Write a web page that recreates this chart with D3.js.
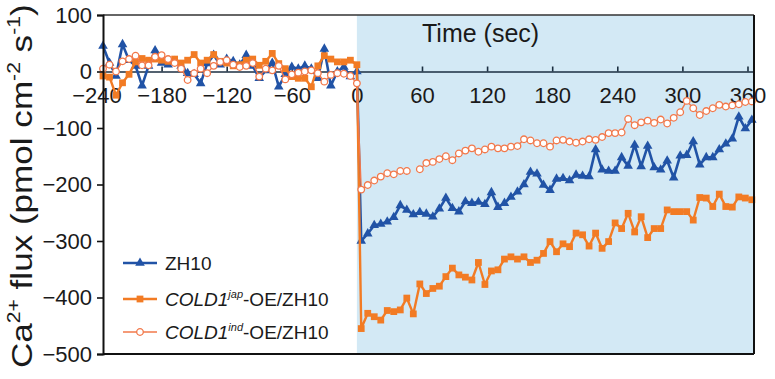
<!DOCTYPE html>
<html><head><meta charset="utf-8">
<script src="https://cdn.jsdelivr.net/npm/d3@7"></script>
<style>
html,body{margin:0;padding:0;background:#fff;}
svg{display:block;font-family:"Liberation Sans",Arial,sans-serif;}
</style></head>
<body>
<svg id="chart" width="775" height="379"></svg>
<script>
// ---- data ----
const timesPre  = d3.range(-234, 1, 6);   // sampling every 6 s before treatment
const timesPost = d3.range(4, 365, 6);    // sampling every 6 s after treatment
const xTicks = [-240, -180, -120, -60, 0, 60, 120, 180, 240, 300, 360];
const yTicks = [100, 0, -100, -200, -300, -400, -500];

const zh10Pre = [45,15,-8,48,20,10,-25,10,37,15,12,18,10,-3,-5,-21,14,29,12,22,
                 18,12,29,10,-12,2,15,-27,-5,8,5,10,5,-12,40,-25,0,8,-9,0];
const zh10Post = [-300,-287,-272,-270,-266,-258,-237,-245,-253,-249,-252,-257,-243,-224,-242,-248,-230,-233,-231,-235,
                  -214,-240,-233,-222,-213,-200,-178,-181,-201,-210,-190,-189,-193,-183,-185,-186,-138,-174,-176,-176,
                  -152,-167,-130,-168,-132,-170,-174,-158,-188,-149,-148,-124,-165,-152,-152,-138,-128,-119,-80,-101,-86];

const japPre = [-8,-10,-42,-20,-5,17,23,20,22,20,18,22,15,20,30,15,20,30,18,15,
                10,12,20,22,11,18,32,14,5,-9,-12,-12,-27,10,28,22,17,17,20,12];
const japPost = [-455,-428,-434,-440,-423,-425,-422,-401,-429,-376,-393,-384,-380,-363,-348,-360,-364,-369,-338,-377,
                 -353,-351,-332,-328,-332,-328,-338,-334,-322,-301,-319,-305,-310,-286,-289,-309,-286,-313,-301,-268,
                 -278,-251,-284,-257,-294,-278,-278,-245,-248,-248,-248,-263,-223,-224,-239,-217,-239,-240,-222,-224,-227];

const indPre = [5,12,0,18,22,28,11,11,26,29,22,15,5,-15,-3,5,-3,10,17,20,
                12,8,10,15,-9,5,2,10,-14,-5,-2,0,2,-3,-18,-6,-3,-4,-8,-21];
const indPost = [-209,-201,-193,-186,-180,-182,-176,-176,null,-173,-162,-160,-155,-150,-157,-145,-140,-136,-142,-138,
                 -133,-136,-136,-133,-132,-120,-122,-127,-127,-133,-122,-121,-124,-126,-124,-120,-121,-116,-109,-109,
                 -108,-84,-95,-90,-87,-91,-85,-92,-82,-72,-52,-65,-77,-70,-65,-59,-62,-60,-58,-54,-53];

const seriesNames = ["ZH10", "COLD1", "COLD1"];
const seriesSups  = ["", "jap", "ind"];
const shadeStart = 0;

// ---- layout ----
const svg = d3.select("#chart");
const L = 103, R = 754, T = 15, B = 354;
const x = d3.scaleLinear().domain([-234, 366]).range([L, R]);
const y = d3.scaleLinear().domain([-500, 100]).range([B, T]);

const blue = "#2153a6", orange = "#f27b24", orange2 = "#f2784a";

// shading
svg.append("rect").attr("x", x(shadeStart)).attr("y", T)
  .attr("width", R - x(shadeStart)).attr("height", B - T).attr("fill", "#d3e9f5");

// x axis at y=0
const xAxis = d3.axisBottom(x).tickValues(xTicks).tickFormat(d3.format("d"))
  .tickSizeInner(-5).tickSizeOuter(0).tickPadding(15.5);
const gx = svg.append("g").attr("transform", `translate(0,${y(0)})`).call(xAxis);
gx.select(".domain").attr("stroke", "#1b2e40").attr("stroke-width", 1.6);
gx.selectAll(".tick line").attr("stroke", "#1b2e40").attr("stroke-width", 1.6)
  .attr("display", d => (x(d) > L + 1 && x(d) < R - 1) ? null : "none");
gx.selectAll(".tick text").attr("font-size", 22).attr("fill", "#1a1a1a")
  .attr("font-family", "'Liberation Sans',Arial,sans-serif");

// data series
function combine(tPre, vPre, tPost, vPost) {
  return tPre.map((t, i) => ({t, v: vPre[i]})).concat(tPost.map((t, i) => ({t, v: vPost[i]})));
}
const series = [
  {data: combine(timesPre, zh10Pre, timesPost, zh10Post), color: blue, width: 2.6, marker: "tri"},
  {data: combine(timesPre, japPre, timesPost, japPost), color: orange, width: 2.4, marker: "sq"},
  {data: combine(timesPre, indPre, timesPost, indPost), color: orange2, width: 1.4, marker: "circ"}
];

const line = d3.line().defined(d => d.v !== null).x(d => x(d.t)).y(d => y(d.v));
function drawMarker(g, type, color) {
  if (type === "tri") {
    g.append("path").attr("d", d3.symbol().type(d3.symbolTriangle).size(40)()).attr("fill", color);
  } else if (type === "sq") {
    g.append("path").attr("d", d3.symbol().type(d3.symbolSquare).size(46)()).attr("fill", color);
  } else {
    g.append("circle").attr("r", 3.3).attr("fill", "#fff").attr("stroke", color).attr("stroke-width", 1.3);
  }
}
series.forEach(s => {
  svg.append("path").datum(s.data).attr("d", line).attr("fill", "none")
    .attr("stroke", s.color).attr("stroke-width", s.width).attr("stroke-linejoin", "round");
  s.data.filter(d => d.v !== null).forEach(d => {
    const g = svg.append("g").attr("transform", `translate(${x(d.t)},${y(d.v)})`);
    drawMarker(g, s.marker, s.color);
  });
});

// frame
svg.append("line").attr("x1", L).attr("x2", R).attr("y1", T).attr("y2", T).attr("stroke", "#333").attr("stroke-width", 1.6);
svg.append("line").attr("x1", R).attr("x2", R).attr("y1", T).attr("y2", B).attr("stroke", "#111").attr("stroke-width", 2);
svg.append("line").attr("x1", L).attr("x2", R).attr("y1", B).attr("y2", B).attr("stroke", "#111").attr("stroke-width", 2);

// y axis
const yAxis = d3.axisLeft(y).tickValues(yTicks).tickSize(6).tickPadding(5).tickFormat(d3.format("d"));
const gy = svg.append("g").attr("transform", `translate(${L},0)`).call(yAxis);
gy.select(".domain").attr("stroke", "#111").attr("stroke-width", 2);
gy.selectAll(".tick line").attr("stroke", "#111").attr("stroke-width", 1.6);
gy.selectAll(".tick text").attr("font-size", 22).attr("fill", "#1a1a1a")
  .attr("font-family", "'Liberation Sans',Arial,sans-serif");

// axis title (x) inside plot
svg.append("text").attr("x", 422).attr("y", 42).attr("font-size", 25).attr("fill", "#1a1a1a").text("Time (sec)");

// y axis title
const yt = svg.append("text").attr("transform", "translate(32,368) rotate(-90) scale(1.17,1)")
  .attr("font-size", 30).attr("fill", "#1a1a1a");
yt.append("tspan").text("Ca");
yt.append("tspan").attr("font-size", 18).attr("dy", -12).text("2+");
yt.append("tspan").attr("dy", 12).text(" flux (pmol cm");
yt.append("tspan").attr("font-size", 18).attr("dy", -12).text("-2");
yt.append("tspan").attr("dy", 12).text(" s");
yt.append("tspan").attr("font-size", 18).attr("dy", -12).text("-1");
yt.append("tspan").attr("dy", 12).text(")");

// legend
const legY = [263, 299, 332];
series.forEach((s, i) => {
  const g = svg.append("g").attr("transform", `translate(0,${legY[i]})`);
  g.append("line").attr("x1", 123).attr("x2", 157).attr("stroke", s.color).attr("stroke-width", s.width);
  const m = g.append("g").attr("transform", "translate(140,0)");
  drawMarker(m, s.marker, s.color);
  const t = g.append("text").attr("x", 165).attr("y", 7).attr("font-size", 19).attr("fill", "#1a1a1a");
  if (i === 0) {
    t.text(seriesNames[i]);
  } else {
    t.append("tspan").attr("font-style", "italic").text(seriesNames[i]);
    t.append("tspan").attr("font-style", "italic").attr("font-size", 11).attr("dy", -8).text(seriesSups[i]);
    t.append("tspan").attr("dy", 8).text("-OE/ZH10");
  }
});
</script>
</body></html>
